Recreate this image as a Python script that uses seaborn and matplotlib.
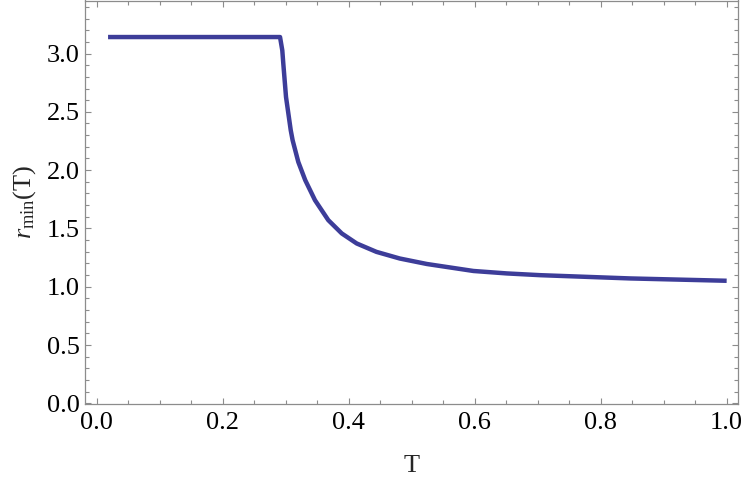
import matplotlib
matplotlib.use("Agg")
import matplotlib.pyplot as plt
import seaborn as sns
import pandas as pd
from matplotlib.ticker import MultipleLocator

# Data
T_vals = [0.018, 0.291, 0.2946, 0.2962, 0.3005, 0.308, 0.311, 0.320, 0.331,
          0.3465, 0.3676, 0.389, 0.4127, 0.444, 0.481, 0.524, 0.598, 0.651,
          0.704, 0.847, 1.0]
r_vals = [3.1416, 3.1416, 3.027, 2.913, 2.627, 2.342, 2.256, 2.07, 1.914,
          1.742, 1.571, 1.457, 1.371, 1.299, 1.242, 1.195, 1.135, 1.114,
          1.099, 1.071, 1.051]
x_ticks = [0.0, 0.2, 0.4, 0.6, 0.8, 1.0]
y_ticks = [0.0, 0.5, 1.0, 1.5, 2.0, 2.5, 3.0]

sns.set_theme(style="white")
plt.rcParams['font.family'] = ['Liberation Serif', 'DejaVu Serif']
plt.rcParams['mathtext.fontset'] = 'custom'
plt.rcParams['mathtext.rm'] = 'Liberation Serif'
plt.rcParams['mathtext.it'] = 'Liberation Serif:italic'

df = pd.DataFrame({"T": T_vals, "r": r_vals})

fig = plt.figure(figsize=(7.47, 4.84), dpi=100)
ax = fig.add_axes([85/747, 1 - 404/484, (738-85)/747, 403.5/484])

sns.lineplot(data=df, x="T", y="r", ax=ax, sort=False, estimator=None,
             color="#3d3d99", linewidth=3.2)
for l in ax.lines:
    l.set_solid_joinstyle('round')
    l.set_solid_capstyle('butt')

ax.set_xlim(-0.0186, 1.018)
ax.set_ylim(-0.006, 3.455)
ax.set_xticks(x_ticks)
ax.set_yticks(y_ticks)
ax.set_xticklabels([f"{v:.1f}" for v in x_ticks])
ax.set_yticklabels([f"{v:.1f}" for v in y_ticks])
ax.xaxis.set_minor_locator(MultipleLocator(0.05))
ax.yaxis.set_minor_locator(MultipleLocator(0.1))

frame_col = "#8c8c8c"
for s in ax.spines.values():
    s.set_color(frame_col)
    s.set_linewidth(0.9)
ax.tick_params(which="both", direction="in", top=True, right=True,
               bottom=True, left=True, color=frame_col, width=0.8,
               labelsize=19, labelcolor="black")
ax.tick_params(axis="x", which="both", pad=6)
ax.tick_params(axis="y", which="both", pad=4)
ax.tick_params(which="major", length=4.5)
ax.tick_params(which="minor", length=3)

ax.set_xlabel("T", fontsize=19, labelpad=15)
ax.set_ylabel(r"$r_{\mathrm{min}}(\mathrm{T})$", fontsize=19, labelpad=6)

fig.savefig("out.png", dpi=100)
